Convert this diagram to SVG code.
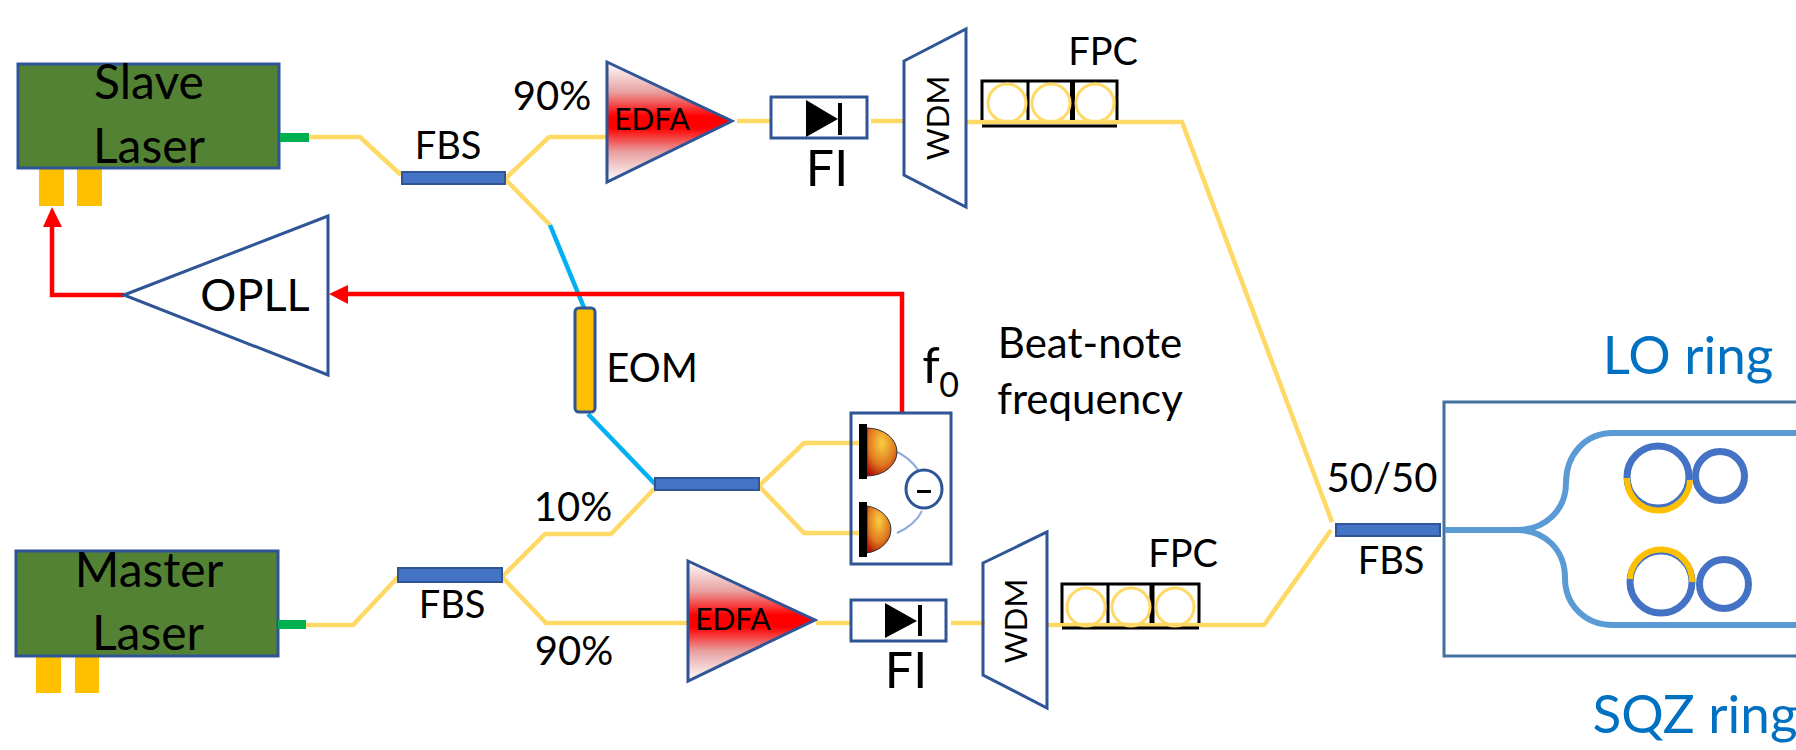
<svg xmlns="http://www.w3.org/2000/svg" width="1796" height="750" viewBox="0 0 1796 750">
<style>
text{font-family:Lato,"Liberation Sans",sans-serif;fill:#000;text-anchor:middle}
.laser{fill:#548235;stroke:#2f5597;stroke-width:3}
.pad{fill:#ffc000}
.pig{fill:#00b050}
.o{fill:none;stroke:#2f5597;stroke-width:3}
.fbs{fill:#4472c4;stroke:#2f5597;stroke-width:2}
.edfa{fill:url(#amp);stroke:#2f5597;stroke-width:3}
.y{fill:none;stroke:#ffd966;stroke-width:4.500}
.b{fill:none;stroke:#00b0f0;stroke-width:4.500}
.r{fill:none;stroke:#f00;stroke-width:4.500}
.k{fill:none;stroke:#000;stroke-width:3}
.kk{fill:none;stroke:#000;stroke-width:5}
.loop{fill:none;stroke:#ffd966;stroke-width:3}
.ring{fill:none;stroke:#4472c4;stroke-width:7}
.arc{fill:none;stroke:#ffc000;stroke-width:6}
.wg{fill:none;stroke:#5b9bd5;stroke-width:6}
.dome{fill:url(#pd);stroke:#333;stroke-width:1}
.s{font-size:38px}
.p{font-size:40px}
.t{font-size:42px}
.l{font-size:48px}
.e{font-size:30px}
.w{font-size:31px}
.c{font-size:53px;fill:#0070c0}
</style>
<defs>
<linearGradient id="amp" x1="0" y1="0" x2="0" y2="1"><stop offset="0" stop-color="#fff"/><stop offset=".25" stop-color="#e8a0a0"/><stop offset=".45" stop-color="#f00"/><stop offset=".55" stop-color="#f00"/><stop offset=".75" stop-color="#e8a0a0"/><stop offset="1" stop-color="#fff"/></linearGradient>
<radialGradient id="pd" cx=".5" cy=".32" r=".8"><stop offset="0" stop-color="#f8d040"/><stop offset=".55" stop-color="#e07a20"/><stop offset="1" stop-color="#a80000"/></radialGradient>
</defs>
<g id="connectors">
<path class="y" d="M309 137H360L401 175"/>
<path class="y" d="M505 179L549 137H606"/>
<path class="y" d="M505 179L550 225"/>
<path class="b" d="M550 225L585 310"/>
<path class="b" d="M588 414L657 486"/>
<path class="y" d="M737 121H770"/>
<path class="y" d="M871 121H905"/>
<path class="y" d="M966 122H1182L1332 522"/>
<path class="y" d="M306 625H353L398 577"/>
<path class="y" d="M502 577L545 534H611L657 486"/>
<path class="y" d="M502 577L546 623H687"/>
<path class="y" d="M759 486L804 443H860"/>
<path class="y" d="M759 486L804 533H860"/>
<path class="y" d="M816 623H850"/>
<path class="y" d="M951 623H985"/>
<path class="y" d="M1047 625H1264L1331 530"/>
<path class="r" d="M902 412V294H347"/>
<path d="M348 285V304L329 294Z" fill="#f00"/>
<path class="r" d="M124 295H52V226"/>
<path d="M43 227H62L52 207Z" fill="#f00"/>
</g>
<g id="slave-laser">
<rect class="pad" x="39" y="168" width="25" height="38"/><rect class="pad" x="77" y="168" width="25" height="38"/>
<rect class="laser" x="18" y="64" width="261" height="104"/>
<rect class="pig" x="280" y="133" width="29" height="9"/>
<text class="l" x="149" y="99">Slave</text><text class="l" x="149" y="163">Laser</text>
</g>
<g id="master-laser">
<rect class="pad" x="36" y="656" width="25" height="37"/><rect class="pad" x="75" y="656" width="24" height="37"/>
<rect class="laser" x="16" y="551" width="262" height="105"/>
<rect class="pig" x="278" y="620" width="28" height="9"/>
<text class="l" x="149" y="587">Master</text><text class="l" x="148" y="650">Laser</text>
</g>
<g id="fbs-slave"><rect class="fbs" x="402" y="172" width="103" height="12"/><text class="s" x="448" y="159">FBS</text></g>
<g id="fbs-master"><rect class="fbs" x="398" y="568" width="104" height="14"/><text class="s" x="452" y="618">FBS</text></g>
<g id="fbs-detector"><rect class="fbs" x="655" y="478" width="104" height="12"/></g>
<g id="fbs-output"><rect class="fbs" x="1336" y="524" width="104" height="12"/><text class="s" x="1391" y="574">FBS</text><text class="p" x="1382" y="492">50/50</text></g>
<g id="labels">
<text class="p" x="552" y="110">90%</text>
<text class="p" x="573" y="521">10%</text>
<text class="p" x="574" y="665">90%</text>
</g>
<g id="edfa-top"><path class="edfa" d="M607 62L732 121L607 182Z"/><text class="e" x="652" y="130">EDFA</text></g>
<g id="edfa-bottom"><path class="edfa" d="M688 561L815 620L688 681Z"/><text class="e" x="733" y="630">EDFA</text></g>
<g id="fi-top"><rect class="o" x="771" y="97" width="96" height="41"/><path d="M806 100L838 119L806 137Z"/><rect x="838" y="103" width="4" height="32"/><text x="827" y="186" font-size="50">FI</text></g>
<g id="fi-bottom"><rect class="o" x="851" y="600" width="95" height="41"/><path d="M885 603L917 621L885 638Z"/><rect x="918" y="605" width="4" height="31"/><text x="906" y="688" font-size="50">FI</text></g>
<g id="wdm-top"><path class="o" d="M904 61L966 29V207L904 175Z"/><text class="w" x="949" y="118" transform="rotate(-90 949 118)">WDM</text></g>
<g id="wdm-bottom"><path class="o" d="M983 563L1047 532V708L983 675Z"/><text class="w" x="1027" y="621" transform="rotate(-90 1027 621)">WDM</text></g>
<g id="fpc-top">
<path class="k" d="M982 120V81H1117V120M1028 81V120"/><path class="kk" d="M1072.5 81V120"/><path class="k" d="M982 126H1117"/>
<circle class="loop" cx="1007" cy="103" r="19"/><circle class="loop" cx="1051" cy="103" r="19"/><circle class="loop" cx="1095" cy="103" r="19"/>
<text class="s" x="1103" y="65">FPC</text>
</g>
<g id="fpc-bottom">
<path class="k" d="M1062 623V584H1199V623M1108 584V623"/><path class="kk" d="M1152 584V623"/><path class="k" d="M1062 628H1199"/>
<circle class="loop" cx="1086" cy="607" r="19"/><circle class="loop" cx="1131" cy="607" r="19"/><circle class="loop" cx="1175" cy="607" r="19"/>
<text class="s" x="1183" y="567">FPC</text>
</g>
<g id="opll"><path class="o" d="M124 295L328 216V375Z"/><text x="255" y="311" font-size="45">OPLL</text></g>
<g id="eom"><rect x="575" y="308" width="20" height="104" rx="4" fill="#ffc000" stroke="#2f5597" stroke-width="3"/><text class="p" x="652" y="382">EOM</text></g>
<g id="detector">
<rect class="o" x="851" y="413" width="100" height="151"/>
<path d="M897 452Q910 458 918 470M897 533Q915 525 922 511" fill="none" stroke="#8faadc" stroke-width="2"/>
<path class="dome" d="M867 428A30 24 0 0 1 867 476Z"/><path class="dome" d="M867 506A30 24 0 0 1 867 553Z"/>
<rect x="859" y="424" width="8" height="55"/><rect x="859" y="502" width="8" height="55"/>
<ellipse cx="924" cy="489" rx="18" ry="19" fill="#fff" stroke="#2f5597" stroke-width="3"/>
<rect x="917" y="490" width="14" height="3"/>
</g>
<g id="f0-label"><text x="931" y="383" font-size="50">f</text><text x="949" y="397" font-size="34">0</text></g>
<g id="beat-label"><text class="t" x="1090" y="358">Beat-note</text><text class="t" x="1090" y="414">frequency</text></g>
<g id="chip">
<path d="M1796 402H1444V656H1796" fill="none" stroke="#44719f" stroke-width="3"/>
<path class="wg" d="M1445 530H1517C1545 530 1566 510 1566 483C1566 455 1585 433 1613 433H1796"/>
<path class="wg" d="M1517 530C1545 530 1565 550 1565 578C1565 605 1585 625 1613 625H1796"/>
<circle class="ring" cx="1658" cy="477" r="31"/><circle class="ring" cx="1720" cy="476" r="24.500"/>
<path class="arc" d="M1627 478A31 31 0 0 0 1690 480"/>
<circle class="ring" cx="1661" cy="582" r="31"/><circle class="ring" cx="1724" cy="584" r="24.500"/>
<path class="arc" d="M1630 579A31 31 0 0 1 1692 582"/>
<text class="c" x="1688" y="374">LO ring</text><text class="c" x="1695" y="733">SQZ ring</text>
</g>
</svg>
